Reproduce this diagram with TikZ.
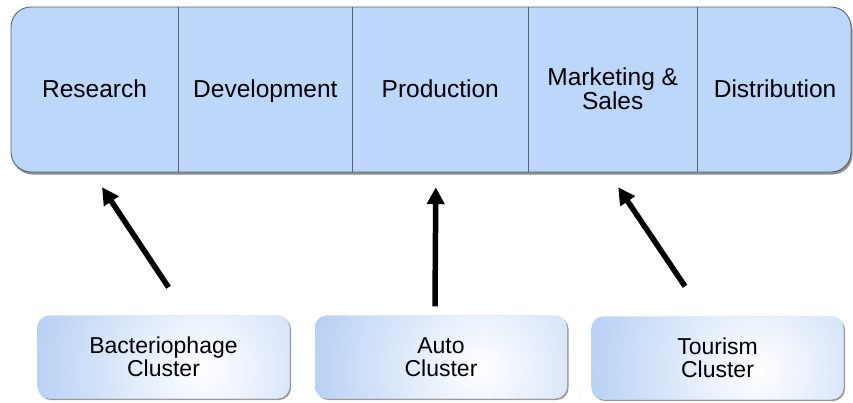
\documentclass[tikz,border=0pt]{standalone}
\usepackage{fontspec}
\setmainfont{Liberation Sans}
\usetikzlibrary{positioning,arrows.meta,shadows}

\definecolor{barblue}{RGB}{189,215,251}
\definecolor{clblue}{RGB}{180,206,244}
\definecolor{edgegray}{RGB}{88,98,112}

\tikzset{
  bar/.style={draw=edgegray,line width=0.9pt,fill=barblue,rounded corners=20pt,
    drop shadow={shadow xshift=1.5pt,shadow yshift=-2.5pt,fill=black,opacity=0.45}},
  seg/.style={minimum height=165pt,inner sep=0pt,align=center,
    text height=18.5pt,text depth=3.5pt,font=\fontsize{24.5}{24}\selectfont},
  cluster/.style={rounded corners=12pt,fill=clblue,minimum width=252pt,minimum height=83pt,
    inner sep=0pt,align=center,text height=40pt,text depth=2pt,
    font=\fontsize{23}{23}\selectfont,
    drop shadow={shadow xshift=1.5pt,shadow yshift=-1.5pt,fill=black,opacity=0.4},
    path picture={\shade[inner color=white,outer color=clblue]
      ([xshift=40pt,yshift=-12pt]path picture bounding box.center) circle (180pt);}},
  upArrow/.style={line width=5.5pt,-{Triangle[length=17pt,width=17pt]}}
}

\begin{document}
\begin{tikzpicture}[x=1pt,y=-1pt]
\useasboundingbox (0,0) rectangle (853,402);

% chaine de valeur
\draw[bar] (11,7) rectangle (851,172);
\node[seg,minimum width=167pt] (res) at (94.5,89.5) {Research};
\node[seg,minimum width=174pt,right=0pt of res] (dev) {Development};
\node[seg,minimum width=175pt,right=0pt of dev] (prod) {Production};
\node[seg,minimum width=169pt,text height=42.5pt,right=0pt of prod] (mkt) {Marketing \&\\Sales};
\node[seg,minimum width=155pt,right=0pt of mkt] (dist) {Distribution};

\foreach \s in {res,dev,prod,mkt}
  \draw[edgegray,line width=0.9pt] (\s.north east)--(\s.south east);

% clusters
\node[cluster] (bact) at (163.5,357) {Bacteriophage\\Cluster};
\node[cluster] (auto) at (441,357) {Auto\\Cluster};
\node[cluster] (tour) at (717.5,358) {Tourism\\Cluster};

\draw[upArrow] ([xshift=5pt,yshift=28pt]bact.north)--([xshift=7.5pt,yshift=-15pt]res.south);
\draw[upArrow] ([xshift=-6pt,yshift=9pt]auto.north)--([xshift=-4.5pt,yshift=-15pt]prod.south);
\draw[upArrow] ([xshift=-32.5pt,yshift=30pt]tour.north)--([xshift=5.5pt,yshift=-15pt]mkt.south);
\end{tikzpicture}
\end{document}
